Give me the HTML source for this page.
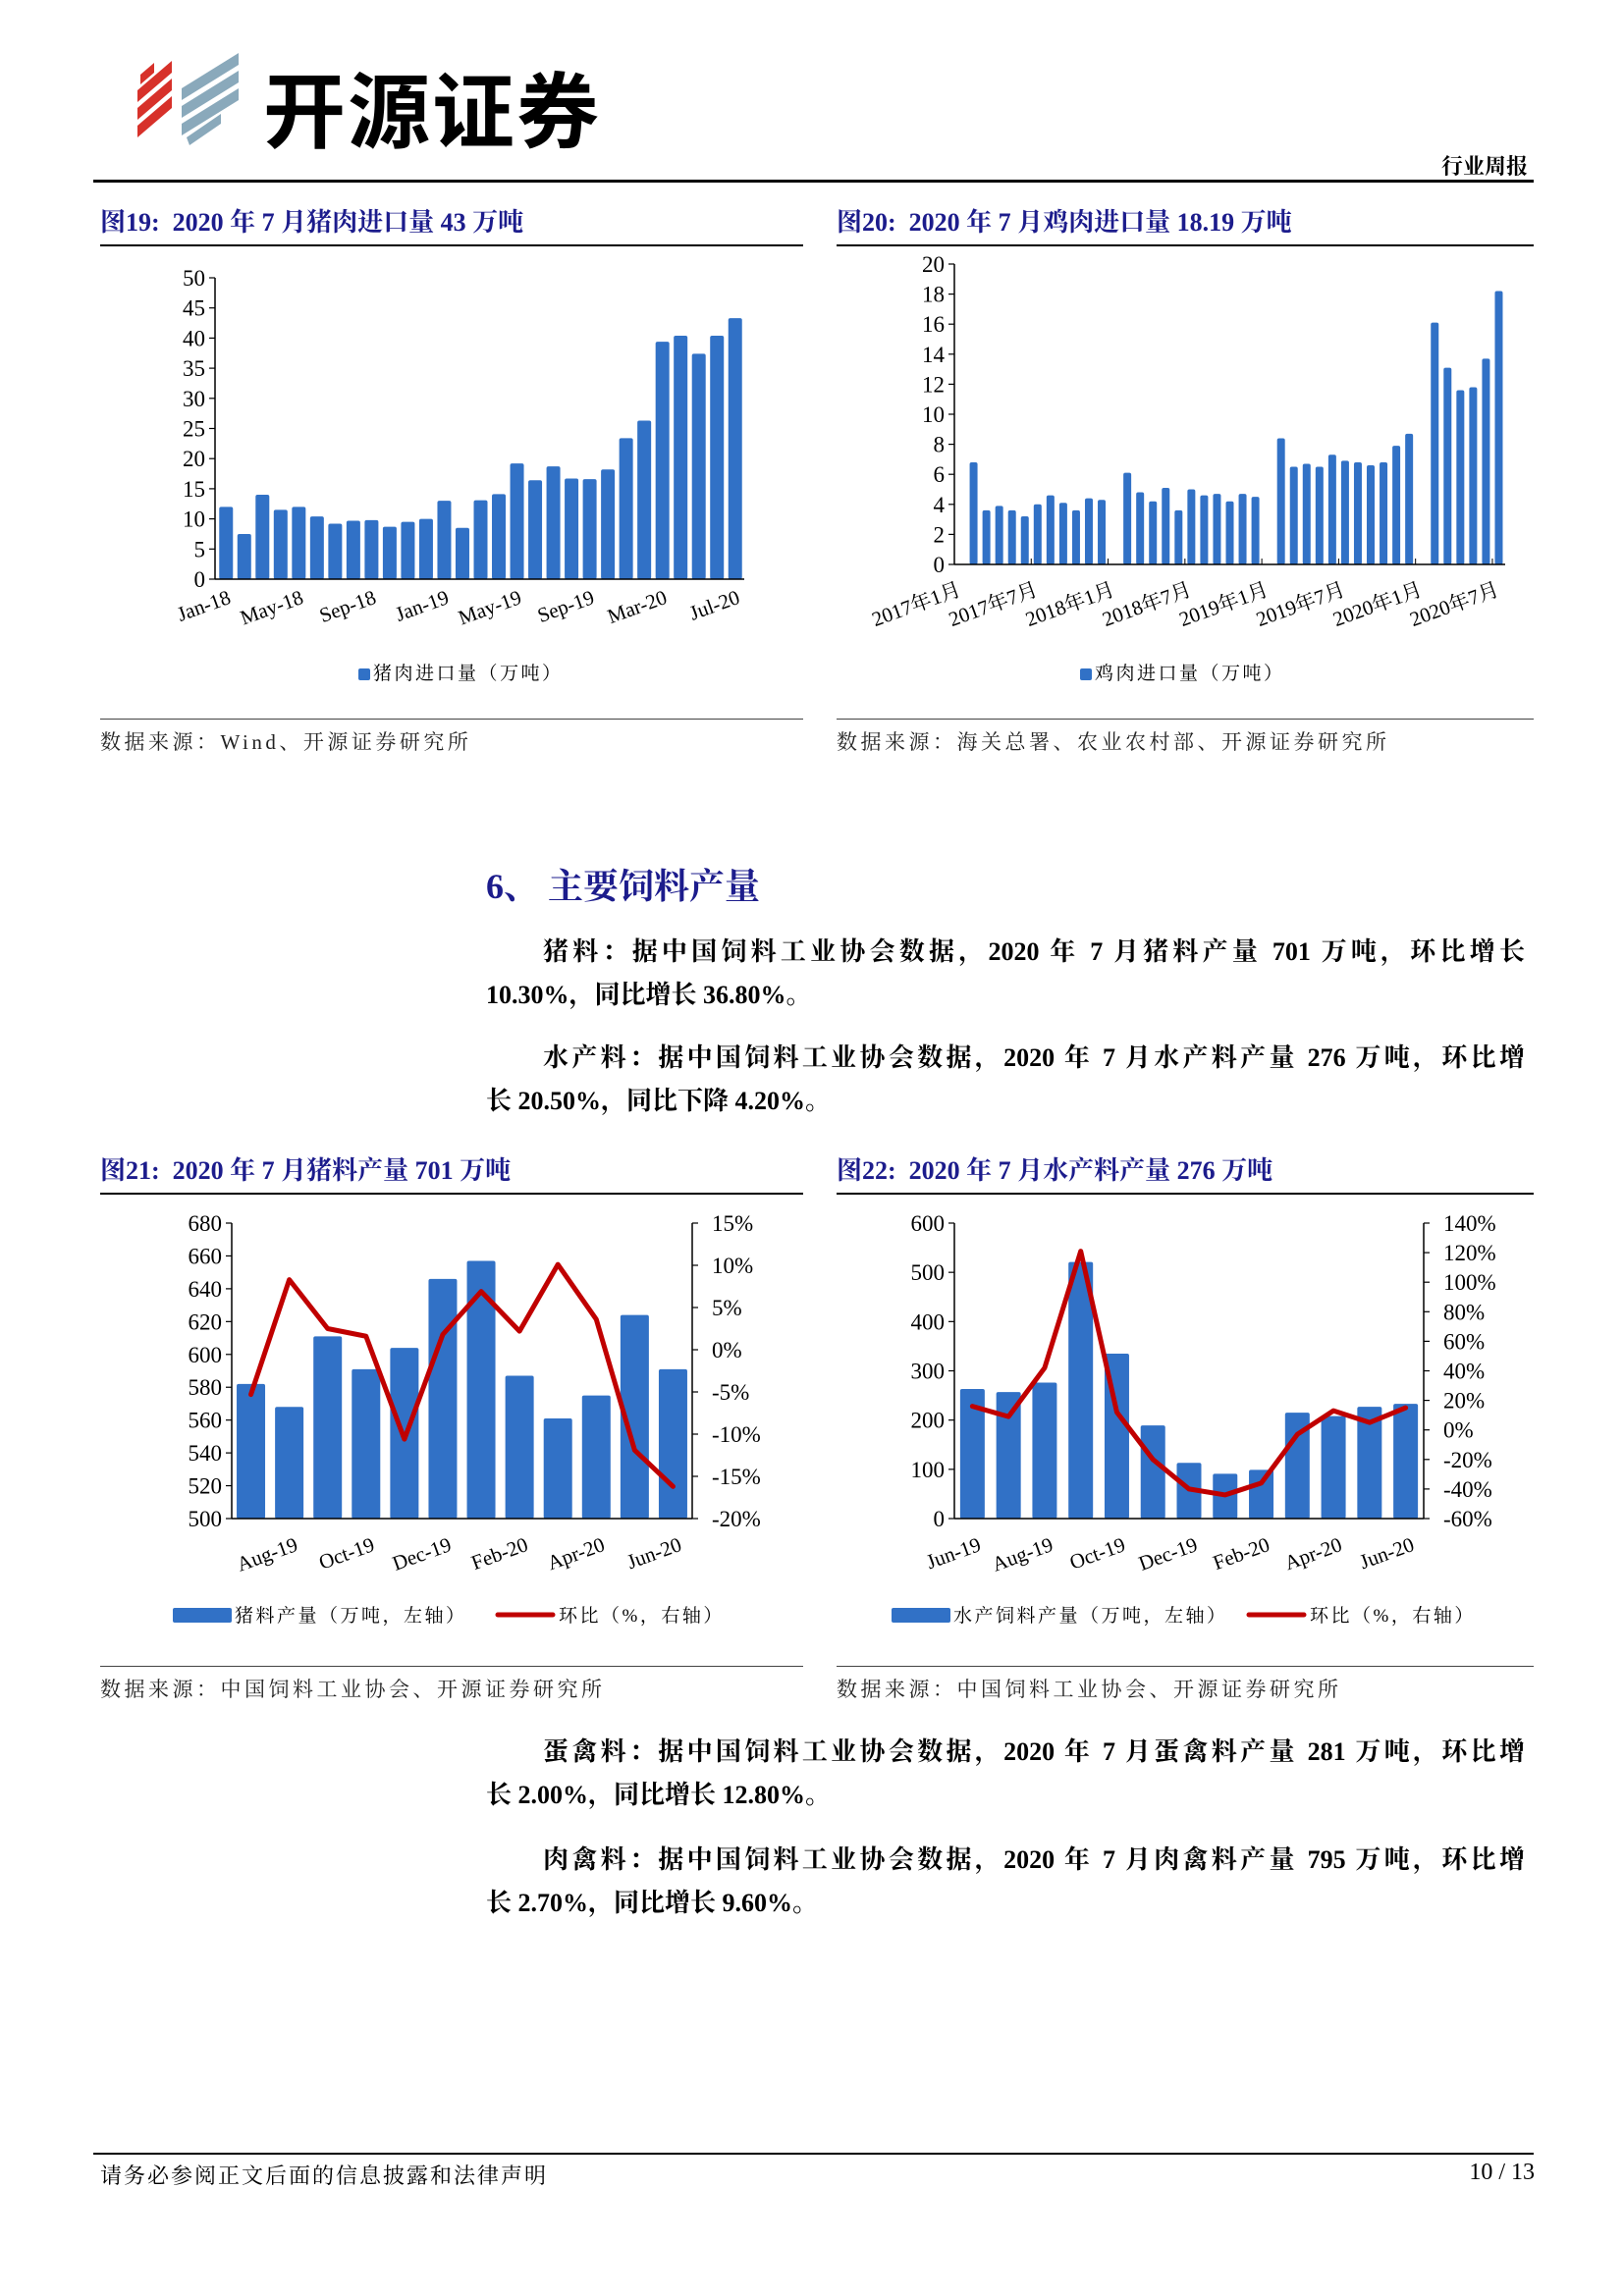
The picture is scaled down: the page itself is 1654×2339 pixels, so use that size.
<!DOCTYPE html>
<html><head><meta charset="utf-8">
<style>
body{margin:0;background:#fff;}
#page{position:relative;width:1654px;height:2339px;overflow:hidden;background:#fff;font-family:"Liberation Serif","Noto Serif CJK SC",serif;color:#000;}
.abs{position:absolute;white-space:nowrap;}
.figt{font-weight:bold;color:#1c1c8c;font-size:26px;}
.hr{position:absolute;height:2px;background:#000;}
.thin{position:absolute;height:1px;background:#444;}
.src{font-size:21px;letter-spacing:3.5px;color:#222;}
.para{position:absolute;left:495px;width:1058px;font-weight:bold;font-size:26px;}
.para div{height:44px;line-height:44px;white-space:nowrap;}
.j{text-align:justify;text-align-last:justify;}
</style></head>
<body>
<div id="page">
  <svg class="abs" style="left:135px;top:50px" width="120" height="100">
    <polygon points="5,60 40,30 40,42 5,72" fill="#d7312a"/>
    <polygon points="5,78 40,48 40,60 5,90" fill="#d7312a"/>
    <polygon points="5,42 40,12 40,24 5,54" fill="#d7312a"/>
    <polygon points="8,26 22,14 22,24 8,36" fill="#d7312a"/>
    <polygon points="50,40 108,4 108,16 50,52" fill="#8aa9bb"/>
    <polygon points="50,58 108,22 108,34 50,70" fill="#8aa9bb"/>
    <polygon points="50,76 108,40 108,52 50,88" fill="#8aa9bb"/>
    <polygon points="55,90 90,66 90,76 58,98" fill="#8aa9bb"/>
  </svg>
  <div class="abs" style="left:268px;top:48px;font-size:84px;font-weight:bold;font-family:'Noto Sans CJK SC',sans-serif;letter-spacing:2px">开源证券</div>
  <div class="abs" style="right:98px;top:153px;font-size:22px;font-weight:bold;font-family:'Noto Serif CJK SC',serif">行业周报</div>
  <div class="hr" style="left:95px;width:1467px;top:183px;height:3px"></div>

  <div class="abs figt" style="left:102px;top:206px">图19:&nbsp; 2020 年 7 月猪肉进口量 43 万吨</div>
  <div class="abs figt" style="left:852px;top:206px">图20:&nbsp; 2020 年 7 月鸡肉进口量 18.19 万吨</div>
  <div class="hr" style="left:102px;width:716px;top:249px"></div>
  <div class="hr" style="left:852px;width:710px;top:249px"></div>
  <div class="thin" style="left:102px;width:716px;top:732px"></div>
  <div class="thin" style="left:852px;width:710px;top:732px"></div>
  <div class="abs src" style="left:102px;top:740px">数据来源：Wind、开源证券研究所</div>
  <div class="abs src" style="left:852px;top:740px">数据来源：海关总署、农业农村部、开源证券研究所</div>

  <div class="abs" style="left:495px;top:875px;font-size:36px;font-weight:bold;color:#1c1c8c">6、&nbsp;主要饲料产量</div>
  <div class="para" style="top:948px">
    <div class="j" style="padding-left:58px">猪料：据中国饲料工业协会数据，2020 年 7 月猪料产量 701 万吨，环比增长</div>
    <div>10.30%，同比增长 36.80%。</div>
  </div>
  <div class="para" style="top:1056px">
    <div class="j" style="padding-left:58px">水产料：据中国饲料工业协会数据，2020 年 7 月水产料产量 276 万吨，环比增</div>
    <div>长 20.50%，同比下降 4.20%。</div>
  </div>

  <div class="abs figt" style="left:102px;top:1172px">图21:&nbsp; 2020 年 7 月猪料产量 701 万吨</div>
  <div class="abs figt" style="left:852px;top:1172px">图22:&nbsp; 2020 年 7 月水产料产量 276 万吨</div>
  <div class="hr" style="left:102px;width:716px;top:1215px"></div>
  <div class="hr" style="left:852px;width:710px;top:1215px"></div>
  <div class="thin" style="left:102px;width:716px;top:1697px"></div>
  <div class="thin" style="left:852px;width:710px;top:1697px"></div>
  <div class="abs src" style="left:102px;top:1705px">数据来源：中国饲料工业协会、开源证券研究所</div>
  <div class="abs src" style="left:852px;top:1705px">数据来源：中国饲料工业协会、开源证券研究所</div>

  <div class="para" style="top:1763px">
    <div class="j" style="padding-left:58px">蛋禽料：据中国饲料工业协会数据，2020 年 7 月蛋禽料产量 281 万吨，环比增</div>
    <div>长 2.00%，同比增长 12.80%。</div>
  </div>
  <div class="para" style="top:1873px">
    <div class="j" style="padding-left:58px">肉禽料：据中国饲料工业协会数据，2020 年 7 月肉禽料产量 795 万吨，环比增</div>
    <div>长 2.70%，同比增长 9.60%。</div>
  </div>

  <div class="hr" style="left:95px;width:1467px;top:2193px"></div>
  <div class="abs" style="left:102px;top:2200px;font-size:22px;letter-spacing:2px">请务必参阅正文后面的信息披露和法律声明</div>
  <div class="abs" style="right:91px;top:2200px;font-size:24px">10 / 13</div>

  <svg id="charts" class="abs" style="left:0;top:0" width="1654" height="2339"></svg>
</div>
<script>
// Fig 19: pork imports (10k tons)
var c19Labels = ["Jan-18","","","","May-18","","","","Sep-18","","","","Jan-19","","","","May-19","","","","Sep-19","","","","Mar-20","","","","Jul-20"];
var c19Values = [12,7.5,14,11.5,12,10.4,9.2,9.7,9.8,8.7,9.5,10,13,8.5,13.1,14.1,19.2,16.4,18.7,16.7,16.6,18.2,23.4,26.3,39.4,40.4,37.4,40.4,43.3];
var c19Ticks = [0,5,10,15,20,25,30,35,40,45,50];
// Fig 20: chicken imports (10k tons), Jan 2017 - Jul 2020, Jan values merged (null)
var c20Values = [null,6.8,3.6,3.9,3.6,3.2,4.0,4.6,4.1,3.6,4.4,4.3,
 null,6.1,4.8,4.2,5.1,3.6,5.0,4.6,4.7,4.2,4.7,4.5,
 null,8.4,6.5,6.7,6.5,7.3,6.9,6.8,6.6,6.8,7.9,8.7,
 null,16.1,13.1,11.6,11.8,13.7,18.2];
var c20Labels = ["2017年1月","2017年7月","2018年1月","2018年7月","2019年1月","2019年7月","2020年1月","2020年7月"];
var c20Ticks = [0,2,4,6,8,10,12,14,16,18,20];
// Fig 21: pig feed output + MoM
var c21Cats = ["Jul-19","Aug-19","Sep-19","Oct-19","Nov-19","Dec-19","Jan-20","Feb-20","Mar-20","Apr-20","May-20","Jun-20"];
var c21Bars = [582,568,611,591,604,646,657,587,561,575,624,591];
var c21Line = [-5.3,8.3,2.5,1.6,-10.6,1.8,6.9,2.2,10.1,3.6,-11.9,-16.2];
var c21LeftTicks = [500,520,540,560,580,600,620,640,660,680];
var c21RightTicks = [-20,-15,-10,-5,0,5,10,15];
// Fig 22: aquatic feed output + MoM
var c22Cats = ["Jun-19","Jul-19","Aug-19","Sep-19","Oct-19","Nov-19","Dec-19","Jan-20","Feb-20","Mar-20","Apr-20","May-20","Jun-20"];
var c22Bars = [263,257,276,521,335,189,113,91,99,215,208,227,233];
var c22Line = [16,9,42,121,12,-20,-40,-44,-36,-3,13,5,15];
var c22LeftTicks = [0,100,200,300,400,500,600];
var c22RightTicks = [-60,-40,-20,0,20,40,60,80,100,120,140];

var NS="http://www.w3.org/2000/svg";
var svg=document.getElementById('charts');
var BAR="#3171c6", RED="#c00000", FONT="Liberation Serif, serif", CJK="Liberation Serif, Noto Serif CJK SC, serif";
function mk(tag,attrs,txt){var e=document.createElementNS(NS,tag);for(var k in attrs)e.setAttribute(k,attrs[k]);if(txt!=null)e.textContent=txt;svg.appendChild(e);return e;}
function lin(d0,d1,r0,r1){return function(v){return r0+(v-d0)*(r1-r0)/(d1-d0);};}

function leftAxis(x,y0,y1,ticks,sc,fmt,name){
  var e=mk('line',{x1:x,y1:y0,x2:x,y2:y1,stroke:'#000','stroke-width':1.5});
  
  
  ticks.forEach(function(t){
    mk('line',{x1:x-6,x2:x,y1:sc(t),y2:sc(t),stroke:'#000','stroke-width':1.2});
    var l=mk('text',{x:x-10,y:sc(t)+8,'text-anchor':'end','font-size':23,'font-family':FONT},fmt(t));
    
    
  });
}
function rightAxis(x,y0,y1,ticks,sc,fmt,name){
  var e=mk('line',{x1:x,y1:y0,x2:x,y2:y1,stroke:'#000','stroke-width':1.5});
  
  
  ticks.forEach(function(t){
    mk('line',{x1:x,x2:x+6,y1:sc(t),y2:sc(t),stroke:'#000','stroke-width':1.2});
    var l=mk('text',{x:x+20,y:sc(t)+8,'text-anchor':'start','font-size':23,'font-family':FONT},fmt(t));
    
    
  });
}
function xLabel(x,y,txt,name,font){
  var l=mk('text',{x:x,y:y,'text-anchor':'end','font-size':21,'font-family':font||FONT,transform:'rotate(-20 '+x+' '+y+')'},txt);
  
  
}
function bar(x,w,y,y0,name){
  var r=mk('rect',{x:x-w/2,y:Math.min(y,y0),width:w,height:Math.abs(y0-y),fill:BAR,rx:2});
  
  
}
function legendBox(x,y,w,h,txt,name){
  var r=mk('rect',{x:x,y:y,width:w,height:h,fill:BAR,rx:2});
  
  
  var t=mk('text',{x:x+w+3,y:y+h-1,'font-size':19,'font-family':CJK,'letter-spacing':2.5},txt);
  
  
}
function legendLine(x,y,w,txt,name){
  var r=mk('line',{x1:x,x2:x+w,y1:y,y2:y,stroke:RED,'stroke-width':5,'stroke-linecap':'round'});
  
  
  var t=mk('text',{x:x+w+6,y:y+7,'font-size':19,'font-family':CJK,'letter-spacing':2.5},txt);
  
  
}

// ---- Fig 19
(function(){
  var L=219,R=758,T=283,B=590, n=c19Values.length, pitch=(R-L-2)/n;
  var y=lin(0,50,B,T);
  leftAxis(L,T,B,c19Ticks,y,String,'fig19');
  c19Values.forEach(function(v,i){ bar(L+2+pitch*(i+0.5),14,y(v),B,'fig19-bar'); });
  var ax=mk('line',{x1:L,x2:R,y1:B,y2:B,stroke:'#000','stroke-width':1.5});
  
  
  c19Labels.forEach(function(s,i){ if(s) xLabel(L+2+pitch*(i+0.5)+6,614,s,'fig19'); });
  legendBox(365,681,12,12,'猪肉进口量（万吨）','fig19');
})();

// ---- Fig 20
(function(){
  var L=972,R=1533,T=269,B=575, n=c20Values.length, pitch=(R-L)/n;
  var y=lin(0,20,B,T);
  leftAxis(L,T,B,c20Ticks,y,String,'fig20');
  c20Values.forEach(function(v,i){ if(v!=null) bar(L+pitch*(i+0.5),8,y(v),B,'fig20-bar'); });
  var ax=mk('line',{x1:L,x2:R,y1:B,y2:B,stroke:'#000','stroke-width':1.5});
  
  
  c20Labels.forEach(function(s,k){ var x=L+pitch*6*k; mk('line',{x1:x,x2:x,y1:B,y2:B-6,stroke:'#000','stroke-width':1}); xLabel(x+8,606,s,'fig20',CJK); });
  legendBox(1100,681,12,12,'鸡肉进口量（万吨）','fig20');
})();

// ---- Fig 21
(function(){
  var L=236,R=705,T=1246,B=1547, n=c21Bars.length, pitch=(R-L)/n;
  var y=lin(500,680,B,T), yr=lin(-20,15,B,T);
  c21Bars.forEach(function(v,i){ bar(L+pitch*(i+0.5),29,y(v),B,'fig21-bar'); });
  leftAxis(L,T,B,c21LeftTicks,y,String,'fig21');
  rightAxis(R,T,B,c21RightTicks,yr,function(t){return t+'%';},'fig21');
  var ax=mk('line',{x1:L,x2:R,y1:B,y2:B,stroke:'#000','stroke-width':1.5});
  
  
  var pts=c21Line.map(function(v,i){return (L+pitch*(i+0.5))+','+yr(v);}).join(' ');
  var pl=mk('polyline',{points:pts,fill:'none',stroke:RED,'stroke-width':5,'stroke-linejoin':'round','stroke-linecap':'round'});
  
  
  c21Cats.forEach(function(s,i){ if(i%2==1) xLabel(L+pitch*(i+0.5)+10,1579,s,'fig21'); });
  legendBox(176,1638,60,15,'猪料产量（万吨，左轴）','fig21');
  legendLine(507,1645,56,'环比（%，右轴）','fig21');
})();

// ---- Fig 22
(function(){
  var L=972,R=1450,T=1246,B=1547, n=c22Bars.length, pitch=(R-L)/n;
  var y=lin(0,600,B,T), yr=lin(-60,140,B,T);
  c22Bars.forEach(function(v,i){ bar(L+pitch*(i+0.5),25,y(v),B,'fig22-bar'); });
  leftAxis(L,T,B,c22LeftTicks,y,String,'fig22');
  rightAxis(R,T,B,c22RightTicks,yr,function(t){return t+'%';},'fig22');
  var ax=mk('line',{x1:L,x2:R,y1:B,y2:B,stroke:'#000','stroke-width':1.5});
  
  
  var pts=c22Line.map(function(v,i){return (L+pitch*(i+0.5))+','+yr(v);}).join(' ');
  var pl=mk('polyline',{points:pts,fill:'none',stroke:RED,'stroke-width':5,'stroke-linejoin':'round','stroke-linecap':'round'});
  
  
  c22Cats.forEach(function(s,i){ if(i%2==0) xLabel(L+pitch*(i+0.5)+10,1579,s,'fig22'); });
  legendBox(908,1638,60,15,'水产饲料产量（万吨，左轴）','fig22');
  legendLine(1272,1645,56,'环比（%，右轴）','fig22');
})();
</script>
</body></html>
